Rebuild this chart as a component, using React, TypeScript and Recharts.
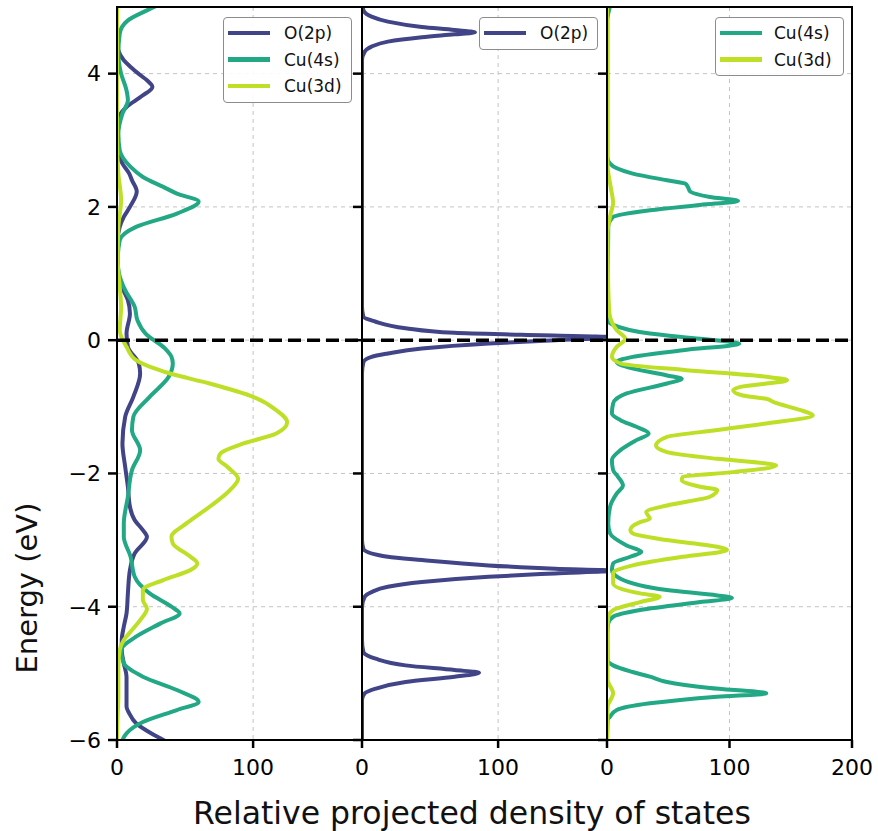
import { LineChart, Line, XAxis, YAxis, CartesianGrid, ReferenceLine } from "recharts";

// [energy (eV), projected DOS] pairs, energies ascending
type Pt = [number, number];

const energyTicks = [-6, -4, -2, 0, 2, 4];
const leftDosTicks = [0, 100];
const midDosTicks = [0, 100];
const rightDosTicks = [0, 100, 200];

const leftO2p: Pt[] = [
  [-6.1, 40], [-6.0, 34], [-5.9, 25], [-5.75, 14], [-5.6, 9], [-5.5, 7], [-5.3, 7],
  [-5.05, 7], [-4.85, 5], [-4.65, 3.5], [-4.5, 3.5], [-4.3, 5], [-4.1, 7], [-3.8, 8],
  [-3.45, 9.5], [-3.2, 13], [-2.95, 22], [-2.85, 19], [-2.7, 13], [-2.5, 9.5], [-2.2, 8],
  [-1.9, 6], [-1.55, 4], [-1.15, 6], [-0.85, 12], [-0.5, 17], [-0.35, 16], [-0.1, 8],
  [0.1, 7], [0.4, 9.5], [0.6, 8], [0.75, 4.7], [0.95, 1], [1.2, 0.3], [1.5, 0.5],
  [1.7, 2], [1.85, 5], [2.0, 9.5], [2.23, 14.5], [2.4, 11], [2.5, 9], [2.65, 4],
  [2.8, 1], [3.0, 0.3], [3.2, 0.5], [3.35, 1.5], [3.5, 7], [3.66, 18], [3.8, 26],
  [3.9, 22], [3.98, 17], [4.1, 10], [4.2, 5], [4.35, 1], [4.5, 0], [5.1, 0],
];

const leftCu4s: Pt[] = [
  [-6.1, 2], [-6.0, 4], [-5.9, 7], [-5.73, 19], [-5.55, 44], [-5.43, 60], [-5.25, 44],
  [-5.05, 19], [-4.85, 5], [-4.65, 3], [-4.45, 14], [-4.25, 32], [-4.1, 46], [-4.0, 40],
  [-3.8, 24], [-3.55, 13], [-3.25, 10], [-2.95, 5], [-2.75, 5], [-2.35, 8], [-1.95, 11],
  [-1.65, 17], [-1.35, 11], [-1.15, 12], [-0.85, 24], [-0.55, 38], [-0.35, 41],
  [-0.25, 40], [-0.12, 35], [0.1, 21], [0.3, 15], [0.5, 13], [0.75, 6], [1.0, 1.5],
  [1.2, 0.5], [1.5, 2], [1.7, 14], [1.9, 44], [2.08, 60], [2.2, 44], [2.3, 34],
  [2.45, 19], [2.6, 10], [2.85, 2], [3.1, 1], [3.4, 4], [3.6, 8], [3.75, 7], [4.0, 3],
  [4.3, 1], [4.6, 2], [4.8, 8], [4.95, 22], [5.1, 38],
];

const leftCu3d: Pt[] = [
  [-6.1, 0], [-5.6, 0.5], [-5.35, 1], [-4.9, 1], [-4.65, 2], [-4.5, 5], [-4.35, 11],
  [-4.2, 17], [-4.03, 22], [-3.9, 19], [-3.75, 19], [-3.6, 34], [-3.45, 54], [-3.35, 59],
  [-3.25, 54], [-3.05, 41], [-2.95, 40], [-2.75, 51], [-2.5, 68], [-2.25, 83], [-2.08, 89],
  [-1.9, 81], [-1.78, 74.5], [-1.7, 76], [-1.55, 93], [-1.4, 117], [-1.23, 125],
  [-1.05, 117], [-0.85, 100], [-0.65, 68], [-0.5, 39], [-0.3, 14], [-0.1, 7], [0.15, 2],
  [0.5, 3], [0.8, 2], [1.2, 0.5], [1.7, 1], [2.1, 3], [2.5, 1], [3.0, 0], [5.1, 0],
];

const midO2p: Pt[] = [
  [-6.1, 0], [-5.4, 0], [-5.3, 2], [-5.23, 10], [-5.13, 32], [-5.05, 68], [-4.99, 86],
  [-4.95, 68], [-4.88, 32], [-4.78, 10], [-4.68, 1], [-4.5, 0], [-4.0, 0], [-3.85, 2],
  [-3.78, 7], [-3.7, 19], [-3.63, 44], [-3.55, 93], [-3.5, 142], [-3.46, 184],
  [-3.43, 142], [-3.38, 93], [-3.3, 44], [-3.25, 19], [-3.13, 1], [-3.0, 0], [-0.5, 0],
  [-0.33, 1], [-0.25, 7], [-0.2, 19], [-0.125, 44], [-0.05, 93], [0.0, 142], [0.045, 184],
  [0.08, 117], [0.11, 68], [0.18, 32], [0.28, 9.6], [0.35, 1], [0.5, 0], [4.2, 0],
  [4.33, 2], [4.405, 7], [4.48, 19], [4.545, 44], [4.59, 68], [4.62, 83], [4.655, 68],
  [4.7, 44], [4.78, 19], [4.855, 7], [4.955, 1], [5.1, 0],
];

const rightCu4s: Pt[] = [
  [-6.1, 0], [-5.7, 0.5], [-5.65, 2.5], [-5.55, 8], [-5.45, 35], [-5.35, 90], [-5.3, 130],
  [-5.22, 84], [-5.13, 49], [-5.05, 35], [-4.98, 21], [-4.88, 5], [-4.8, 0.5], [-4.4, 0.3],
  [-4.25, 1], [-4.15, 5], [-4.05, 27], [-3.93, 76], [-3.87, 102], [-3.83, 90], [-3.75, 49],
  [-3.58, 11], [-3.45, 4], [-3.35, 5], [-3.25, 19], [-3.18, 28], [-3.08, 16], [-2.9, 2.5],
  [-2.75, 1], [-2.5, 2.5], [-2.3, 8], [-2.18, 13], [-2.05, 9], [-1.95, 5], [-1.8, 4],
  [-1.65, 11], [-1.5, 24], [-1.4, 34], [-1.3, 24], [-1.2, 11], [-1.1, 4], [-0.95, 5],
  [-0.8, 16], [-0.65, 49], [-0.58, 61], [-0.53, 49], [-0.4, 16], [-0.33, 8], [-0.25, 21],
  [-0.15, 62], [-0.05, 108], [0.02, 76], [0.1, 35], [0.23, 5], [0.3, 0.5], [1.7, 1],
  [1.85, 5], [1.95, 35], [2.03, 76], [2.09, 107], [2.15, 84], [2.23, 68], [2.3, 66],
  [2.35, 64], [2.4, 49], [2.5, 21], [2.65, 2.4], [2.75, 0.3], [4.8, 0.3], [4.9, 1], [5.1, 4],
];

const rightCu3d: Pt[] = [
  [-6.1, 0], [-5.5, 0.5], [-5.3, 5], [-5.1, 0.5], [-4.4, 0.3], [-4.15, 1], [-4.05, 5],
  [-3.93, 27], [-3.85, 43], [-3.8, 27], [-3.65, 5], [-3.5, 5], [-3.38, 21], [-3.25, 62],
  [-3.15, 98], [-3.1, 90], [-3.0, 49], [-2.9, 21], [-2.85, 19], [-2.73, 27], [-2.68, 35],
  [-2.58, 32], [-2.48, 49], [-2.35, 84], [-2.25, 90], [-2.2, 76], [-2.1, 61], [-2.05, 62],
  [-1.98, 103], [-1.88, 138], [-1.85, 130], [-1.78, 90], [-1.68, 49], [-1.58, 40],
  [-1.45, 49], [-1.38, 76], [-1.25, 130], [-1.13, 168], [-1.05, 158], [-0.93, 136],
  [-0.88, 130], [-0.83, 111], [-0.75, 103], [-0.7, 109], [-0.6, 147], [-0.55, 130],
  [-0.45, 65], [-0.35, 11], [-0.25, 4], [-0.1, 8], [0.02, 15], [0.15, 8], [0.4, 2],
  [0.8, 1], [1.6, 0.5], [1.9, 3], [2.05, 5], [2.3, 3], [2.6, 0.5], [3.0, 0], [5.1, 0],
];

const O_COLOR = "#414487";
const CU4S_COLOR = "#22a884";
const CU3D_COLOR = "#bddf26";

const FONT = "DejaVu Sans";
const PLOT_TOP = 7;
const PLOT_H = 733;
const PANEL_W = 245;
const CHART_H = 831;

type Series = { name: string; color: string; pts: Pt[] };

const rows = (pts: Pt[]) => pts.map(([e, dos]) => ({ e, dos }));
const fmt = (v: number) => (v < 0 ? `\u2212${-v}` : `${v}`);

const tickLine = { stroke: "#000", strokeWidth: 2.5 };
const tickText = { fill: "#000", fontSize: 22, fontFamily: FONT };

function Panel(props: {
  left: number;
  yAxisWidth: number;
  marginRight: number;
  xMax: number;
  xTicks: number[];
  series: Series[];
  yLabels: boolean;
}) {
  const { left, yAxisWidth, marginRight, xMax, xTicks, series, yLabels } = props;
  return (
    <div style={{ position: "absolute", left, top: 0 }}>
      <LineChart
        layout="vertical"
        width={yAxisWidth + PANEL_W + marginRight}
        height={CHART_H}
        margin={{ top: PLOT_TOP, right: marginRight, bottom: 0, left: 0 }}
      >
        <CartesianGrid stroke="#c4c4c4" strokeDasharray="4 4" strokeWidth={1} />
        <XAxis
          type="number"
          domain={[0, xMax]}
          ticks={xTicks}
          interval={0}
          allowDataOverflow
          height={CHART_H - PLOT_TOP - PLOT_H}
          axisLine={false}
          tickLine={tickLine}
          tickSize={8}
          tickMargin={11}
          tick={tickText}
        />
        {/* energy runs upward */}
        <YAxis
          type="number"
          dataKey="e"
          domain={[-6, 5]}
          ticks={energyTicks}
          interval={0}
          reversed
          allowDataOverflow
          width={yAxisWidth}
          axisLine={false}
          tickLine={tickLine}
          tickSize={9}
          tickMargin={7}
          tick={tickText}
          tickFormatter={yLabels ? fmt : () => ""}
        />
        {series.map((s) => (
          <Line
            key={s.name}
            data={rows(s.pts)}
            dataKey="dos"
            type="monotone"
            stroke={s.color}
            strokeWidth={4}
            dot={false}
            activeDot={false}
            isAnimationActive={false}
          />
        ))}
        <ReferenceLine y={0} stroke="#000" strokeWidth={3.5} strokeDasharray="13 6" />
      </LineChart>
    </div>
  );
}

function Frame({ x }: { x: number }) {
  return (
    <div
      style={{
        position: "absolute",
        left: x - 1.25,
        top: PLOT_TOP - 1.25,
        width: PANEL_W + 2.5,
        height: PLOT_H + 2.5,
        boxSizing: "border-box",
        border: "2.5px solid #000",
        pointerEvents: "none",
      }}
    />
  );
}

function LegendBox(props: { x: number; w: number; gap: number; items: Series[] }) {
  const { x, w, gap, items } = props;
  return (
    <div
      style={{
        position: "absolute",
        left: x,
        top: 17,
        width: w,
        height: 6 + items.length * 26.5,
        boxSizing: "border-box",
        border: "1px solid #8c8c8c",
        borderRadius: 4,
        background: "rgba(255,255,255,0.9)",
      }}
    >
      {items.map((it, i) => (
        <div
          key={it.name}
          style={{
            position: "absolute",
            left: 4,
            top: 2 + i * 26.5,
            height: 26,
            display: "flex",
            alignItems: "center",
            whiteSpace: "nowrap",
          }}
        >
          <div style={{ width: 42, height: 4.5, background: it.color }} />
          <span style={{ marginLeft: gap, fontSize: 17, fontFamily: FONT, color: "#111" }}>
            {it.name}
          </span>
        </div>
      ))}
    </div>
  );
}

const leftSeries: Series[] = [
  { name: "O(2p)", color: O_COLOR, pts: leftO2p },
  { name: "Cu(4s)", color: CU4S_COLOR, pts: leftCu4s },
  { name: "Cu(3d)", color: CU3D_COLOR, pts: leftCu3d },
];
const midSeries: Series[] = [{ name: "O(2p)", color: O_COLOR, pts: midO2p }];
const rightSeries: Series[] = [
  { name: "Cu(4s)", color: CU4S_COLOR, pts: rightCu4s },
  { name: "Cu(3d)", color: CU3D_COLOR, pts: rightCu3d },
];

export default function App() {
  return (
    <div
      style={{
        position: "absolute",
        left: 0,
        top: 0,
        width: 878,
        height: CHART_H,
        background: "#fff",
        fontFamily: FONT,
      }}
    >
      <Panel left={0} yAxisWidth={117} marginRight={0} xMax={180} xTicks={leftDosTicks} series={leftSeries} yLabels />
      <Panel left={348} yAxisWidth={14} marginRight={0} xMax={180} xTicks={midDosTicks} series={midSeries} yLabels={false} />
      <Panel left={593} yAxisWidth={14} marginRight={30} xMax={200} xTicks={rightDosTicks} series={rightSeries} yLabels={false} />
      <Frame x={117} />
      <Frame x={362} />
      <Frame x={607} />
      <LegendBox x={223} w={129} gap={14} items={leftSeries} />
      <LegendBox x={479} w={119} gap={14} items={midSeries} />
      <LegendBox x={715} w={129} gap={12} items={rightSeries} />
      <svg
        width={878}
        height={CHART_H}
        style={{ position: "absolute", left: 0, top: 0, pointerEvents: "none" }}
      >
        <text x={472} y={824} textAnchor="middle" fontSize={31.5} fontFamily={FONT} fill="#111">
          Relative projected density of states
        </text>
        <text
          transform="translate(37,588) rotate(-90)"
          textAnchor="middle"
          fontSize={29}
          fontFamily={FONT}
          fill="#111"
        >
          Energy (eV)
        </text>
      </svg>
    </div>
  );
}
